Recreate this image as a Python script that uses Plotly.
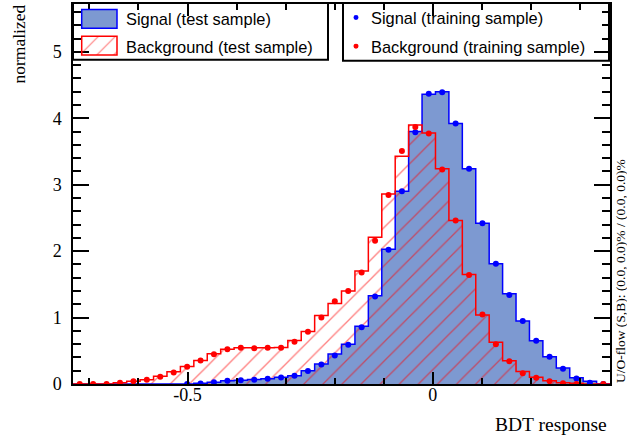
import numpy as np
import plotly.graph_objects as go

# ---------------- data ----------------
x_min, x_max = -0.7335, 0.3615
n_bins = 40

sig_test = [0, 0, 0, 0, 0, 0, 0, 0,
            0.0, 0.01, 0.028, 0.048, 0.058, 0.066, 0.08, 0.1, 0.125, 0.2, 0.3, 0.45,
            0.6, 0.87, 1.33, 2.03, 2.9, 3.8, 4.36, 4.4, 3.92, 3.24,
            2.42, 1.81, 1.36, 0.95, 0.65, 0.41, 0.24, 0.093, 0.04, 0.005]

sig_train = [None, None, None, None, None, None, None, None,
             0.0, 0.008, 0.027, 0.048, 0.058, 0.065, 0.078, 0.097, 0.123, 0.195, 0.293, 0.429,
             0.59, 0.854, 1.316, 2.02, 2.90, 3.79, 4.37, 4.39, 3.92, 3.24,
             2.42, 1.81, 1.34, 0.95, 0.65, 0.41, 0.23, 0.083, 0.018, 0.0]

bkg_test = [0, 0, 0, 0.02, 0.04, 0.063, 0.117, 0.183, 0.263, 0.353,
            0.454, 0.523, 0.544, 0.545, 0.545, 0.55, 0.654, 0.79, 1.03, 1.21,
            1.40, 1.70, 2.21, 2.86, 3.43, 3.90, 3.78, 3.24, 2.46, 1.65,
            1.04, 0.63, 0.35, 0.19, 0.10, 0.05, 0.02, 0.01, 0, 0]

bkg_train = [0, 0, 0, 0.018, 0.042, 0.063, 0.108, 0.173, 0.259, 0.353,
             0.448, 0.523, 0.544, 0.54, 0.545, 0.545, 0.635, 0.785, 1.0, 1.245,
             1.40, 1.68, 2.158, 2.845, 3.507, 3.87, 3.77, 3.23, 2.46, 1.64,
             1.045, 0.60, 0.343, 0.162, 0.093, 0.042, 0.012, 0.0, None, 0.0]

x_tickvals = [-0.5, 0]
x_ticktext = ["-0.5", "0"]
y_tickvals = [0, 1, 2, 3, 4, 5]
y_ticktext = ["0", "1", "2", "3", "4", "5"]

legend_labels = ["Signal (test sample)", "Background (test sample)",
                 "Signal (training sample)", "Background (training sample)"]

# ---------------- geometry ----------------
W, H = 627, 441
L, R, T, B = 73, 17, 2, 57
PW, PH = W - L - R, H - T - B


def PX(px):
    return (px - L) / PW


def PY(py):
    return (H - B - py) / PH


edges = np.linspace(x_min, x_max, n_bins + 1)
centers = 0.5 * (edges[:-1] + edges[1:])
bw = edges[1] - edges[0]

SIG_FILL = "#7d99d1"
BLUE = "#0000ff"
RED = "#ff0000"

fig = go.Figure()

# signal test: filled
fig.add_trace(go.Bar(x=centers, y=sig_test, width=bw,
                     marker=dict(color=SIG_FILL, line=dict(width=0)),
                     showlegend=False, hoverinfo="skip"))
# background test: hatched
fig.add_trace(go.Bar(x=centers, y=bkg_test, width=bw,
                     marker=dict(color="rgba(0,0,0,0)", line=dict(width=0),
                                 pattern=dict(shape="/", fgcolor=RED, bgcolor="rgba(0,0,0,0)",
                                              size=13.5, solidity=0.1, fillmode="overlay")),
                     showlegend=False, hoverinfo="skip"))
# outlines
fig.add_trace(go.Scatter(x=edges, y=list(sig_test) + [sig_test[-1]], mode="lines",
                         line=dict(shape="hv", color=BLUE, width=1.5), showlegend=False))
fig.add_trace(go.Scatter(x=edges, y=list(bkg_test) + [bkg_test[-1]], mode="lines",
                         line=dict(shape="hv", color=RED, width=1.5), showlegend=False))
# training points
fig.add_trace(go.Scatter(x=centers, y=sig_train, mode="markers",
                         marker=dict(color=BLUE, size=6), showlegend=False))
fig.add_trace(go.Scatter(x=centers, y=bkg_train, mode="markers",
                         marker=dict(color=RED, size=6), showlegend=False))

# hatched legend swatch on a tiny auxiliary axis
fig.add_trace(go.Bar(x=[0.5], y=[1], width=1, xaxis="x2", yaxis="y2",
                     marker=dict(color="rgba(0,0,0,0)", line=dict(width=0),
                                 pattern=dict(shape="/", fgcolor=RED, bgcolor="rgba(0,0,0,0)",
                                              size=12, solidity=0.1, fillmode="overlay")),
                     showlegend=False, hoverinfo="skip"))

tickfont = dict(family="Liberation Serif", size=18, color="black")

fig.update_layout(
    width=W, height=H,
    margin=dict(l=L, r=R, t=T, b=B),
    paper_bgcolor="white", plot_bgcolor="rgba(0,0,0,0)",
    barmode="overlay", bargap=0,
    showlegend=False,
    xaxis=dict(range=[x_min, x_max], showgrid=False, zeroline=False,
               showline=True, linecolor="black", linewidth=1.5, mirror="ticks",
               ticks="inside", ticklen=12, tickwidth=1.5, tickcolor="black",
               tickvals=x_tickvals, ticktext=x_ticktext, tickfont=tickfont,
               ticklabelstandoff=-6,
               minor=dict(ticks="inside", ticklen=6, tickwidth=1.5, tickcolor="black",
                          tickvals=[round(v, 1) for v in np.arange(-0.7, 0.35, 0.1)])),
    yaxis=dict(range=[0, 5.72], showgrid=False, zeroline=False,
               showline=True, linecolor="black", linewidth=1.5, mirror="ticks",
               ticks="inside", ticklen=16, tickwidth=1.5, tickcolor="black",
               tickvals=y_tickvals, ticktext=y_ticktext, tickfont=tickfont,
               ticklabelstandoff=6,
               minor=dict(ticks="inside", ticklen=8, tickwidth=1.5, tickcolor="black",
                          tickvals=[round(v, 1) for v in np.arange(0, 5.71, 0.2)])),
    xaxis2=dict(domain=[PX(81.7), PX(117.0)], range=[0, 1], visible=False, anchor="y2",
                fixedrange=True),
    yaxis2=dict(domain=[PY(53.3), PY(34.3)], range=[0, 1], visible=False, anchor="x2",
                fixedrange=True),
)

shapes = []
# legend boxes
shapes.append(dict(type="rect", xref="paper", yref="paper", layer="below",
                   x0=PX(73), x1=PX(328), y0=PY(58), y1=PY(1),
                   fillcolor="white", line=dict(color="black", width=2)))
shapes.append(dict(type="rect", xref="paper", yref="paper", layer="below",
                   x0=PX(343), x1=PX(609), y0=PY(59), y1=PY(1),
                   fillcolor="white", line=dict(color="black", width=2)))
# signal swatch
shapes.append(dict(type="rect", xref="paper", yref="paper", layer="above",
                   x0=PX(81.7), x1=PX(117.0), y0=PY(26.5), y1=PY(7.5),
                   fillcolor=SIG_FILL, line=dict(color=BLUE, width=1.5)))
# background swatch border
shapes.append(dict(type="rect", xref="paper", yref="paper", layer="above",
                   x0=PX(81.7), x1=PX(117.0), y0=PY(53.3), y1=PY(34.3),
                   fillcolor="rgba(0,0,0,0)", line=dict(color=RED, width=1.5)))
# marker swatches
for cy, col in [(15.5, BLUE), (44.5, RED)]:
    shapes.append(dict(type="circle", xref="paper", yref="paper", layer="above",
                       x0=PX(353.5), x1=PX(358.5), y0=PY(cy + 2.5), y1=PY(cy - 2.5),
                       fillcolor=col, line=dict(color=col, width=0)))
fig.update_layout(shapes=shapes)

legfont = dict(family="Liberation Sans", size=16.4, color="black")
ann = []
ann.append(dict(text=legend_labels[0], x=PX(124), y=PY(17), xanchor="left", yanchor="middle"))
ann.append(dict(text=legend_labels[1], x=PX(124), y=PY(45), xanchor="left", yanchor="middle"))
ann.append(dict(text=legend_labels[2], x=PX(369), y=PY(16), xanchor="left", yanchor="middle"))
ann.append(dict(text=legend_labels[3], x=PX(369), y=PY(45), xanchor="left", yanchor="middle"))
for a in ann:
    a.update(xref="paper", yref="paper", showarrow=False, font=legfont)

ann.append(dict(text="BDT response", xref="paper", yref="paper", x=PX(609), y=PY(425),
                xanchor="right", yanchor="middle", showarrow=False,
                font=dict(family="Liberation Serif", size=19.5, color="black")))
ann.append(dict(text="normalized", xref="paper", yref="paper", x=PX(19), y=PY(1),
                xanchor="center", yanchor="top", textangle=-90, showarrow=False,
                font=dict(family="Liberation Serif", size=17.5, color="black")))
ann.append(dict(text="U/O-flow (S,B): (0.0, 0.0)% / (0.0, 0.0)%", xref="paper", yref="paper",
                x=PX(621), y=PY(385), xanchor="center", yanchor="bottom", textangle=-90,
                showarrow=False, font=dict(family="Liberation Serif", size=13.5, color="black")))
fig.update_layout(annotations=ann)

fig.write_html("out.html")
